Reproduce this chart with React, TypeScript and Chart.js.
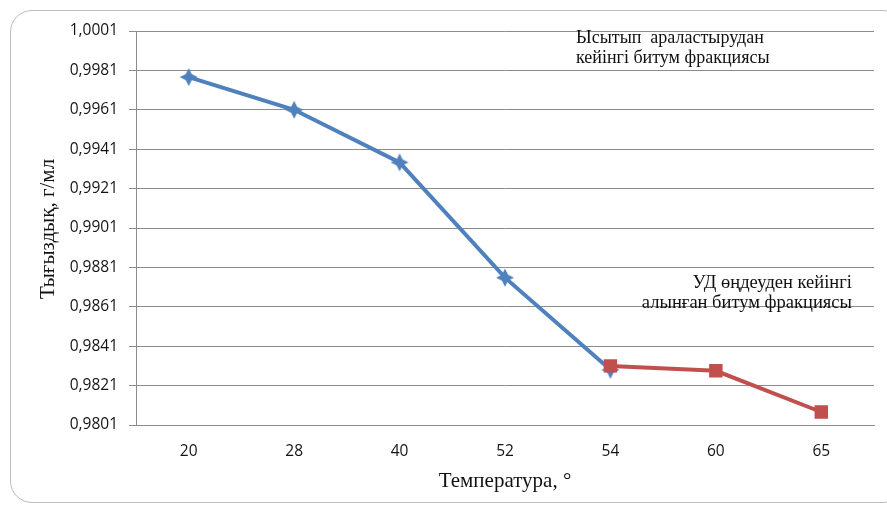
import React, { useEffect, useRef } from "react";
import { Chart, registerables } from "chart.js";

Chart.register(...registerables);

const categories = ["20", "28", "40", "52", "54", "60", "65"];
const seriesBlue = [0.99776, 0.9961, 0.99343, 0.98758, 0.9829, null, null];
const seriesRed = [null, null, null, null, 0.9831, 0.98285, 0.98076];
const yTickValues = [0.9801, 0.9821, 0.9841, 0.9861, 0.9881, 0.9901, 0.9921, 0.9941, 0.9961, 0.9981, 1.0001];
const yTitle = "Тығыздық, г/мл";
const xTitle = "Температура, °";
const noteBlue = ["Ысытып  араластырудан", "кейінгі битум фракциясы"];
const noteRed = ["УД өңдеуден кейінгі", "алынған битум фракциясы"];

const BLUE = "#4F81BD";
const RED = "#C0504D";
const GRID = "#8c8c8c";

function makeStar(): HTMLCanvasElement {
  const c = document.createElement("canvas");
  c.width = 20;
  c.height = 20;
  const ctx = c.getContext("2d")!;
  ctx.fillStyle = BLUE;
  ctx.beginPath();
  const cx = 10, cy = 10, R = 9, r = 4.3;
  for (let i = 0; i < 8; i++) {
    const a = -Math.PI / 2 + (i * Math.PI) / 4;
    const rad = i % 2 === 0 ? R : r;
    const x = cx + rad * Math.cos(a);
    const y = cy + rad * Math.sin(a);
    if (i === 0) ctx.moveTo(x, y);
    else ctx.lineTo(x, y);
  }
  ctx.closePath();
  ctx.fill();
  return c;
}

const textPlugin = {
  id: "texts",
  afterDraw(chart: any) {
    const ctx = chart.ctx as CanvasRenderingContext2D;
    const area = chart.chartArea;
    ctx.save();
    ctx.fillStyle = "#111";
    ctx.font = '21px "Liberation Serif"';
    ctx.save();
    ctx.translate(54, 229);
    ctx.rotate(-Math.PI / 2);
    ctx.textAlign = "center";
    ctx.textBaseline = "alphabetic";
    ctx.fillText(yTitle, 0, 0);
    ctx.restore();
    ctx.textAlign = "center";
    ctx.textBaseline = "alphabetic";
    ctx.fillText(xTitle, (area.left + area.right) / 2, 487);
    ctx.font = '18px "Liberation Serif"';
    ctx.textAlign = "left";
    ctx.fillText(noteBlue[0], 576, 43);
    ctx.fillText(noteBlue[1], 576, 63);
    ctx.textAlign = "right";
    ctx.font = '18.5px "Liberation Serif"';
    ctx.fillText(noteRed[0], 852, 288);
    ctx.fillText(noteRed[1], 852, 308);
    ctx.restore();
  },
};

export default function App() {
  const ref = useRef<HTMLCanvasElement | null>(null);
  useEffect(() => {
    document.body.style.margin = "0";
    const star = makeStar();
    const chart = new Chart(ref.current!, {
      type: "line",
      data: {
        labels: categories,
        datasets: [
          {
            data: seriesBlue,
            borderColor: BLUE,
            backgroundColor: BLUE,
            borderWidth: 4,
            pointStyle: star as any,
            pointRadius: 9,
            order: 2,
          },
          {
            data: seriesRed,
            borderColor: RED,
            backgroundColor: RED,
            borderWidth: 4,
            pointStyle: "rect",
            pointRadius: 9.5,
            pointBorderWidth: 0,
            order: 1,
          },
        ],
      },
      options: {
        responsive: false,
        animation: false,
        layout: { padding: { left: 0, top: 31, right: 8, bottom: 0 } },
        plugins: { legend: { display: false }, tooltip: { enabled: false } },
        scales: {
          x: {
            type: "category",
            offset: true,
            grid: { display: false, drawTicks: false },
            border: { display: true, color: GRID, width: 1 },
            ticks: {
              color: "#141414",
              font: { family: "Open Sans", size: 15.5 },
              padding: 17,
              maxRotation: 0,
            },
            afterFit(scale: any) {
              scale.height = 84;
            },
          },
          y: {
            type: "linear",
            min: 0.9801,
            max: 1.0001,
            grid: { color: GRID, lineWidth: 1, tickLength: 7, drawTicks: true },
            border: { display: true, color: GRID, width: 1 },
            ticks: {
              color: "#141414",
              font: { family: "Open Sans", size: 15.5 },
              padding: 11,
              callback: (v: any) => Number(v).toFixed(4).replace(".", ","),
            },
            afterBuildTicks(scale: any) {
              scale.ticks = yTickValues.map((v) => ({ value: v }));
            },
            afterFit(scale: any) {
              scale.width = 136;
            },
          },
        },
      },
      plugins: [textPlugin],
    });
    return () => chart.destroy();
  }, []);
  return (
    <div style={{ position: "relative", width: 887, height: 509, overflow: "hidden", background: "#fff" }}>
      <div
        style={{
          position: "absolute",
          left: 10,
          top: 10,
          width: 895,
          height: 493,
          border: "1.5px solid #bdbdbd",
          borderRadius: 22,
          boxSizing: "border-box",
        }}
      />
      <canvas ref={ref} width={887} height={509} style={{ position: "absolute", left: 0, top: 0 }} />
    </div>
  );
}
